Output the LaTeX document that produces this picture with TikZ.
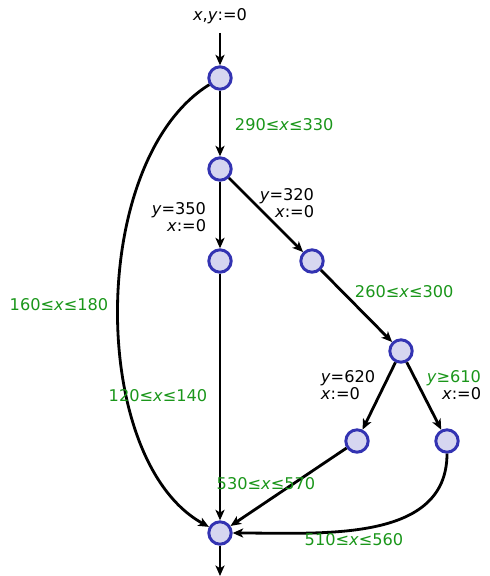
\documentclass[tikz,border=0pt]{standalone}
\usepackage{fontspec}
\setmainfont{DejaVu Sans}
\usetikzlibrary{positioning,arrows.meta}
\definecolor{locblue}{RGB}{51,51,178}
\definecolor{locfill}{RGB}{214,214,240}
\definecolor{guardgreen}{RGB}{26,150,26}

\begin{document}
\begin{tikzpicture}[
    loc/.style={draw=locblue, circle, line width=2.1pt, fill=locfill, minimum size=0.56cm, inner sep=0pt},
    arrow/.style={line width=2pt,->,>={Stealth[length=7.5pt,width=6.5pt,inset=2pt]}},
    guard/.style={text=guardgreen},
    font=\fontsize{11.5}{12}\selectfont
]
\useasboundingbox (0,0) rectangle (12.225,-14.4);

% Locations
\node[loc] (L0) at (5.5,-1.95) {};
\node[loc] (L1) at (5.5,-4.225) {};
\node[loc] (L2) at (5.5,-6.525) {};
\node[loc] (L3) at (7.8,-6.525) {};
\node[loc] (L4) at (10.025,-8.775) {};
\node[loc] (L5) at (8.925,-11.025) {};
\node[loc] (L6) at (11.175,-11.025) {};
\node[loc] (L7) at (5.5,-13.325) {};

% Entry and exit
\node (init) at (5.5,-0.4) {\textit{x},\textit{y}:=0};
\coordinate (exit) at (5.5,-14.4);

% Edges
\draw [arrow] ([yshift=-3pt]init.south) -- (L0);
\draw [arrow] (L0) -- (L1);
\draw [arrow] (L1) -- (L2);
\draw [arrow] (L1) -- (L3);
\draw [arrow] (L3) -- (L4);
\draw [arrow] (L4) -- (L5);
\draw [arrow] (L4) -- (L6);
\draw [arrow] (L2) -- (L7);
\draw [arrow] (L5) -- (L7);
\draw [arrow] (L6) to[out=-90, in=0] (L7);
\draw [arrow] (L0) .. controls (2.2,-4.0) and (2.2,-11.5) .. (L7);
\draw [arrow] (L7) -- (exit);

% Labels
\node[guard, anchor=west] at (5.75,-3.125) {290≤\textit{x}≤330};
\node[anchor=east, align=right] at (5.275,-5.425) {\textit{y}=350\\\textit{x}:=0};
\node[anchor=east, align=right] at (7.975,-5.075) {\textit{y}=320\\\textit{x}:=0};
\node[guard, anchor=west] at (8.75,-7.3) {260≤\textit{x}≤300};
\node[guard] at (1.475,-7.625) {160≤\textit{x}≤180};
\node[guard] at (3.95,-9.9) {120≤\textit{x}≤140};
\node[anchor=west, align=left] at (7.9,-9.625) {\textit{y}=620\\\textit{x}:=0};
\node[anchor=east, align=right] at (12.15,-9.625) {\textcolor{guardgreen}{\textit{y}≥610}\\\textit{x}:=0};
\node[guard] at (6.65,-12.1) {530≤\textit{x}≤570};
\node[guard] at (8.85,-13.5) {510≤\textit{x}≤560};

\end{tikzpicture}
\end{document}
